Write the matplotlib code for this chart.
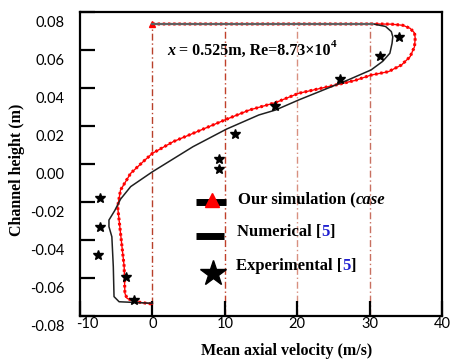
import matplotlib
matplotlib.use('Agg')
import matplotlib.pyplot as plt
import matplotlib.transforms as mtransforms
from matplotlib.ticker import FormatStrFormatter

# ---- data ----
sim_u = [0, 31.0, 33.0, 34.6, 35.6, 36.2, 36.3, 36.2, 35.6, 34.4, 32.6, 30.2, 28.0,
         25.8, 20.2, 17.0, 13.4, 10.2, 5.6, 2.9, 0, -1.2, -3.0, -4.4, -4.8, -4.4,
         -3.9, -3.8, -3.5, -2.3, 0]
sim_y = [0.0737, 0.0737, 0.0736, 0.0730, 0.0714, 0.0690, 0.0662, 0.0617, 0.0565,
         0.0521, 0.0486, 0.0468, 0.0440, 0.0420, 0.0372, 0.0323, 0.0284, 0.0235,
         0.0161, 0.0118, 0.0056, 0.0015, -0.0049, -0.0137, -0.0225, -0.0365,
         -0.0540, -0.0680, -0.0707, -0.0725, -0.0737]

num_u = [0, 30.5, 32.2, 33.0, 33.2, 33.1, 32.8, 31.8, 30.2, 27.0, 23.0, 20.2, 17.0,
         14.7, 10.2, 5.6, 0, -3.0, -4.4, -5.2, -6.0, -6.0, -5.6, -5.4, -5.3, -4.6, 0]
num_y = [0.0737, 0.0737, 0.0724, 0.0697, 0.0670, 0.0635, 0.0583, 0.0540, 0.0495,
         0.0442, 0.0380, 0.0337, 0.0284, 0.0258, 0.0183, 0.0091, -0.0041, -0.0119,
         -0.0185, -0.0245, -0.0295, -0.0330, -0.0383, -0.0540, -0.0698, -0.0725, -0.0733]

exp_u = [34.1, 31.5, 25.9, 17.0, 11.4, 9.2, 9.2, -7.3, -7.2, -7.5, -3.6, -2.6]
exp_y = [0.0667, 0.0566, 0.0447, 0.0303, 0.0156, 0.0025, -0.0028, -0.0178,
         -0.0330, -0.0477, -0.0596, -0.0718]

x_ticks = [-10, 0, 10, 20, 30, 40]
y_ticks = [-0.08, -0.06, -0.04, -0.02, 0.00, 0.02, 0.04, 0.06, 0.08]
ref_lines = [0, 10, 20, 30]

plt.rcParams['axes.unicode_minus'] = False
SERIF = 'Liberation Serif'
TICKFONT = 'Lato'
BLUE = '#1f1fd0'

fig = plt.figure(figsize=(4.55, 3.59), dpi=100)
ax = fig.add_axes([80 / 455, 1 - 316 / 359, 362 / 455, 304 / 359])
ax.set_xlim(-10, 40)
ax.set_ylim(-0.08, 0.08)

# reference dash-dot lines
ref_colors = ['#b8402a', '#c0402a', '#d89080', '#c87060']
ref_bottom = [-0.0737, -0.08, -0.08, -0.08]
for xv, c, yb in zip(ref_lines, ref_colors, ref_bottom):
    ax.plot([xv, xv], [yb, 0.0745], color=c, lw=1.0, ls=(0, (5, 2, 1, 2)), zorder=1)

# simulation: thin solid line with small bumps imitating the triangle markers
ax.plot(sim_u, sim_y, color='red', lw=1.0, zorder=2)
ax.plot(sim_u, sim_y, color='red', lw=2.2, ls=(0, (0.8, 0.9)), zorder=2)
ax.plot(sim_u[:1], sim_y[:1], marker='^', color='red', ms=4, ls='none', zorder=2)
ax.plot(num_u, num_y, color='#202020', lw=1.1, zorder=3)
ax.plot(num_u[:2], num_y[:2], color='#606060', lw=1.6, zorder=3)
ax.plot(exp_u, exp_y, ls='none', marker='*', color='black', ms=7, zorder=4)

# axes style
for sp in ax.spines.values():
    sp.set_linewidth(1.6)
ax.set_xticks(x_ticks)
ax.set_yticks(y_ticks)
ax.yaxis.set_major_formatter(FormatStrFormatter('%.2f'))
ax.tick_params(direction='in', length=11, width=1.6)
ax.tick_params(axis='x', pad=1)
ax.tick_params(axis='y', pad=11)
for lab in ax.get_xticklabels() + ax.get_yticklabels():
    lab.set_fontfamily(TICKFONT)
    lab.set_fontsize(10.5)
shift = mtransforms.ScaledTranslation(0, -7 / 72, fig.dpi_scale_trans)
for lab in ax.get_yticklabels():
    lab.set_transform(lab.get_transform() + shift)
# the first x label sits a little to the right of the corner
xl0 = ax.get_xticklabels()[0]
xl0.set_transform(xl0.get_transform() +
                  mtransforms.ScaledTranslation(5 / 72, 0, fig.dpi_scale_trans))

fig.text(287 / 455, 1 - 351 / 359, 'Mean axial velocity (m/s)', ha='center', va='center',
         family=SERIF, fontweight='bold', fontsize=11.5)
fig.text(17 / 455, 1 - 170 / 359, 'Channel height (m)', ha='center', va='center',
         rotation=90, family=SERIF, fontweight='bold', fontsize=11.5)

renderer = fig.canvas.get_renderer()


def chain_text(x, y, parts, size):
    trans = ax.transAxes
    for s, kw in parts:
        kw = dict(kw)
        dy = kw.pop('dy', 0)
        fs = kw.pop('size', size)
        t = ax.text(x, y + dy, s, transform=trans, ha='left', va='center',
                    family=SERIF, fontweight='bold', fontsize=fs, **kw)
        bb = t.get_window_extent(renderer=renderer)
        x = trans.inverted().transform((bb.x1, bb.y0))[0]


# annotation
chain_text((167 - 80) / 362, (316 - 51) / 304,
           [('x', {'style': 'italic'}),
            (' = 0.525m, Re=8.73\u00d710', {}),
            ('4', {'size': 8, 'dy': 0.022})], 11.5)

# hand-made legend
ax.plot([0.320, 0.403], [0.375, 0.375], transform=ax.transAxes, color='black',
        lw=5, solid_capstyle='butt', clip_on=False)
ax.plot([0.365], [0.383], transform=ax.transAxes, marker='^', color='red', ms=10,
        clip_on=False)
ax.plot([0.320, 0.398], [0.263, 0.263], transform=ax.transAxes, color='black',
        lw=5, solid_capstyle='butt', clip_on=False)
ax.plot([0.367], [0.141], transform=ax.transAxes, marker='*', color='black', ms=19,
        clip_on=False)

chain_text(0.436, 0.382, [('Our simulation (', {}), ('case', {'style': 'italic'})], 12)
chain_text(0.434, 0.276, [('Numerical [', {}), ('5', {'color': BLUE}), (']', {})], 12)
chain_text(0.431, 0.164, [('Experimental [', {}), ('5', {'color': BLUE}), (']', {})], 12)

fig.savefig('out.png', dpi=100)
